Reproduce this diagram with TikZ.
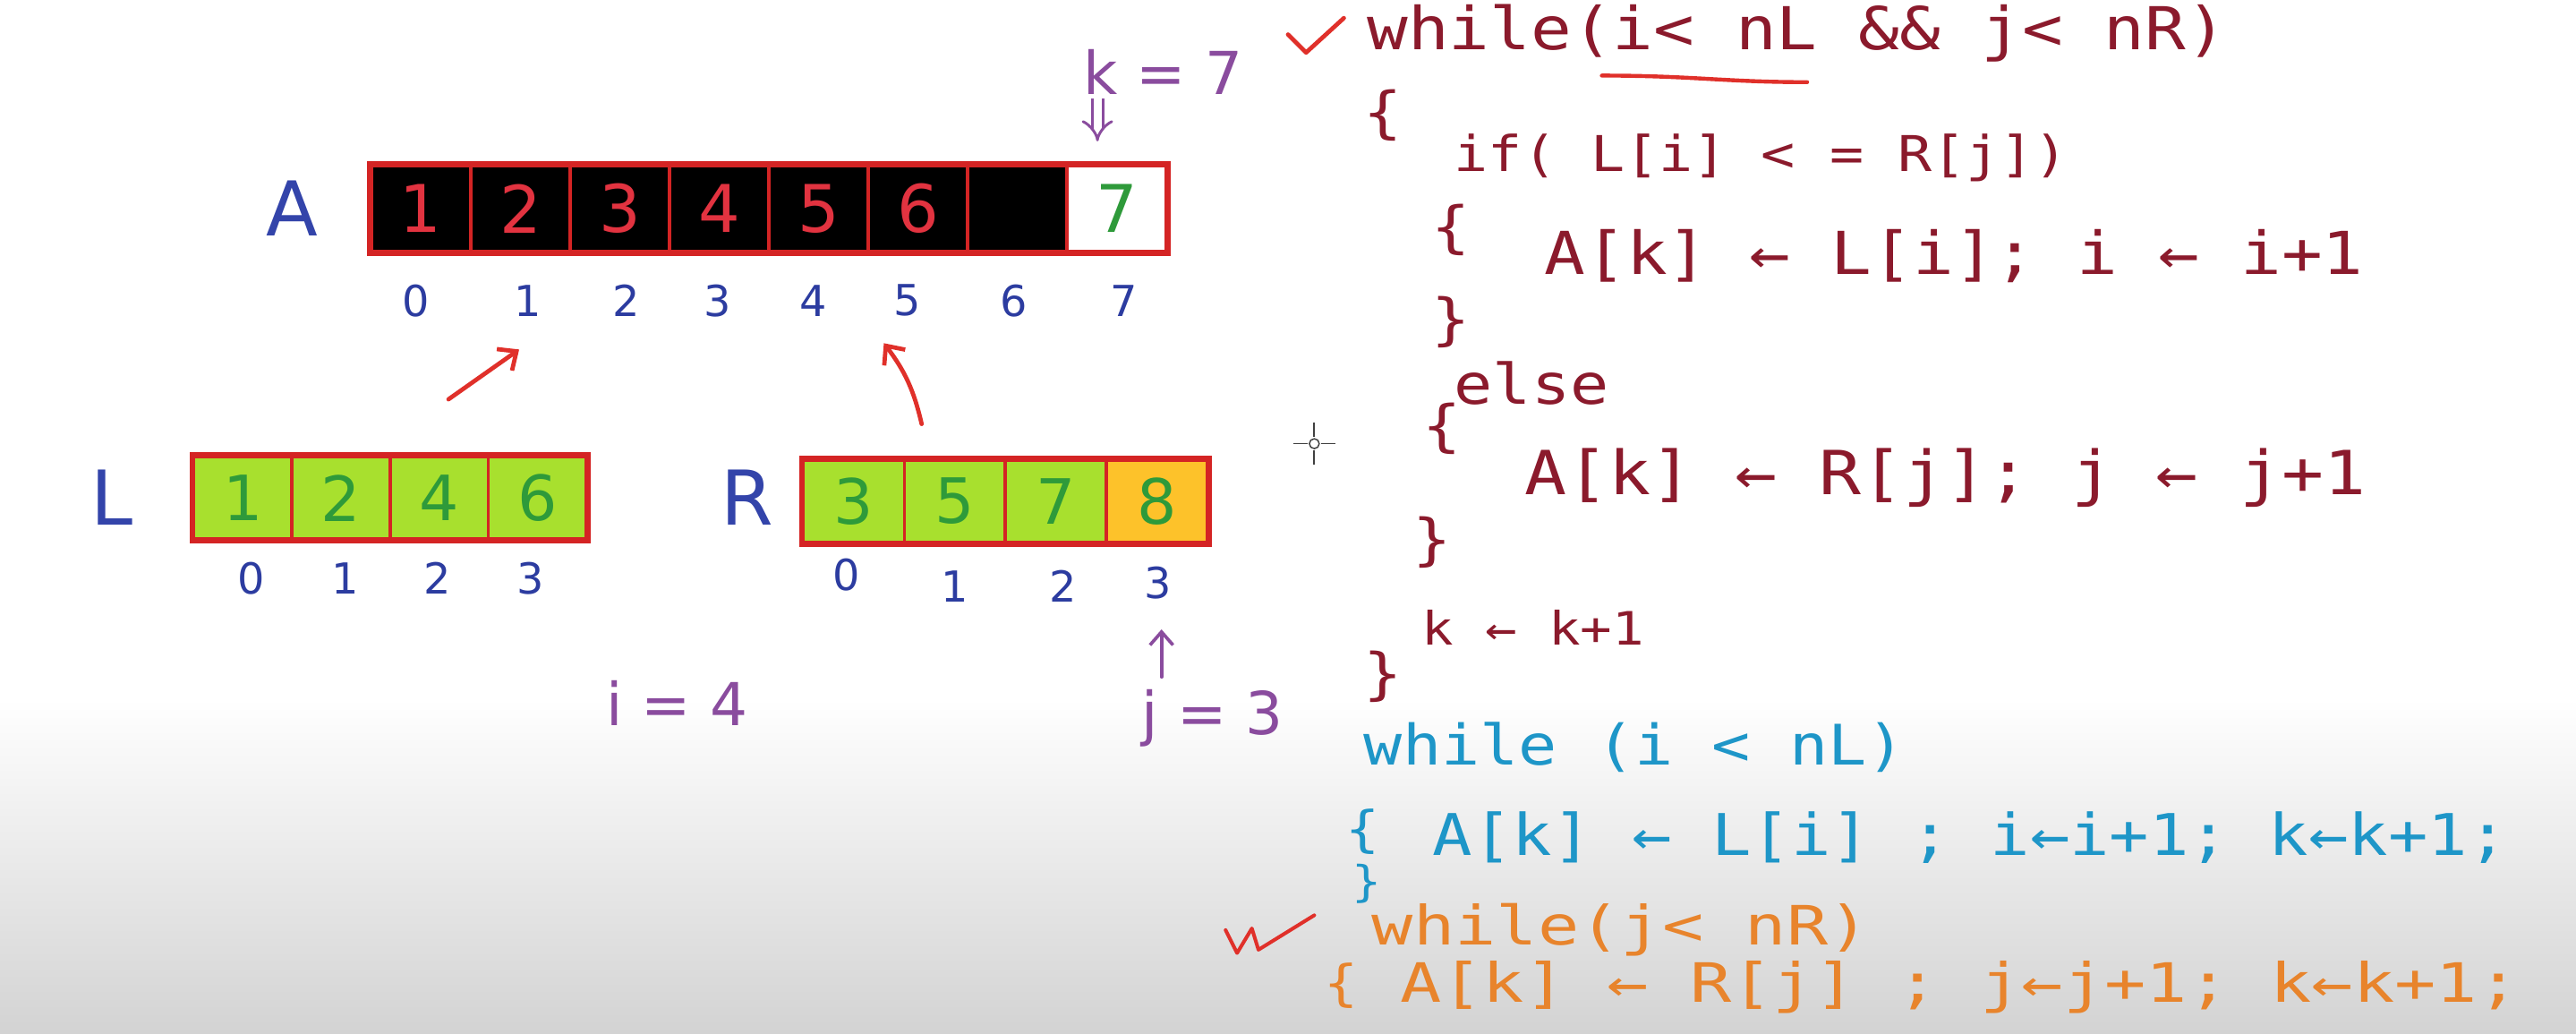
\documentclass[tikz,border=0pt]{standalone}
\usepackage{fontspec}
\setmainfont{DejaVu Sans}
\newfontfamily\codefont[FakeStretch=1.15]{DejaVu Sans Mono}
\newfontfamily\codefontw[FakeStretch=1.27]{DejaVu Sans Mono}
\usetikzlibrary{arrows.meta,calc}
\definecolor{cellred}{HTML}{D42424}
\definecolor{inkred}{HTML}{E23340}
\definecolor{dgreen}{HTML}{2E9A3A}
\definecolor{cellgreen}{HTML}{A8E02E}
\definecolor{cellorange}{HTML}{FDC22A}
\definecolor{idxblue}{HTML}{2C3CA0}
\definecolor{labblue}{HTML}{3344AA}
\definecolor{purp}{HTML}{8A4C9E}
\definecolor{codered}{HTML}{8B1A2C}
\definecolor{codeblue}{HTML}{1E96C8}
\definecolor{codeorange}{HTML}{E8842C}
\definecolor{arrred}{HTML}{E0302A}
\definecolor{bgbot}{HTML}{D3D3D3}
\newcommand\myfs[1]{\fontsize{#1}{#1}\selectfont}
\begin{document}
\begin{tikzpicture}[x=1pt,y=-1pt,
  acell/.style={draw=cellred, line width=2pt, fill=black, text=inkred,
    minimum width=60.5pt, minimum height=52pt, inner sep=0pt, font=\myfs{40}},
  lcell/.style={draw=cellred, line width=2pt, fill=cellgreen, text=dgreen,
    minimum width=59.75pt, minimum height=50pt, inner sep=0pt, font=\myfs{38}},
  rcell/.style={lcell, minimum width=61.5pt},
  idx/.style={text=idxblue, font=\myfs{26}, inner sep=0pt},
  lab/.style={text=labblue, font=\myfs{46}, inner sep=0pt},
  pur/.style={text=purp, font=\myfs{36}, inner sep=0pt},
  code/.style={anchor=west, inner sep=0pt, font=\codefont\myfs{36}},
  cred/.style={code, text=codered},
  cblue/.style={code, text=codeblue},
  corange/.style={code, text=codeorange},
  redarrow/.style={draw=arrred, line width=2.6pt, line cap=round,
    -{Straight Barb[length=9pt,width=16pt,line width=2.6pt]}},
  purarrow/.style={draw=purp, line width=2pt, line cap=round,
    -{Straight Barb[length=8pt,width=14pt,line width=2pt]}}
]
\clip (0,0) rectangle (1568,629);
\fill[white] (0,0) rectangle (1568,629);
\shade[top color=white, bottom color=bgbot] (0,425) rectangle (1568,629);

% ---- array A
\node[lab] (Alab) at (178,127) {A};
\node[acell] (A0) at (256.25,127) {1};
\node[acell] (A1) at (316.75,127) {2};
\node[acell] (A2) at (377.25,127) {3};
\node[acell] (A3) at (437.75,127) {4};
\node[acell] (A4) at (498.25,127) {5};
\node[acell] (A5) at (558.75,127) {6};
\node[acell] (A6) at (619.25,127) {};
\node[acell, fill=white, text=dgreen] (A7) at (679.75,127) {7};
\draw[cellred, line width=3.5pt] (A0.north west) rectangle (A7.south east);
\node[idx] (iA0) at (253,183) {0};
\node[idx] (iA1) at (321,183) {1};
\node[idx] (iA2) at (381,183) {2};
\node[idx] (iA3) at (437,183) {3};
\node[idx] (iA4) at (495,183) {4};
\node[idx] (iA5) at (552,183) {5};
\node[idx] (iA6) at (617,183) {6};
\node[idx] (iA7) at (684,183) {7};

\node[pur] (kv) at (708,44) {k = 7};
\coordinate (kds) at (668,60);
\coordinate (kde) at (668,86);
\draw[purp, double distance=5pt, line width=1.6pt, -{Implies}] (kds) -- (kde);

% ---- array L
\node[lab] (Llab) at (68,303) {L};
\node[lcell] (L0) at (147.9,303) {1};
\node[lcell] (L1) at (207.6,303) {2};
\node[lcell] (L2) at (267.4,303) {4};
\node[lcell] (L3) at (327.1,303) {6};
\draw[cellred, line width=3.5pt] (L0.north west) rectangle (L3.south east);
\node[idx] (iL0) at (153,352) {0};
\node[idx] (iL1) at (210,352) {1};
\node[idx] (iL2) at (266,352) {2};
\node[idx] (iL3) at (323,352) {3};

% ---- array R
\node[lab] (Rlab) at (455,303) {R};
\node[rcell] (R0) at (519.75,305) {3};
\node[rcell] (R1) at (581.25,305) {5};
\node[rcell] (R2) at (642.75,305) {7};
\node[rcell, fill=cellorange] (R3) at (704.25,305) {8};
\draw[cellred, line width=3.5pt] (R0.north west) rectangle (R3.south east);
\node[idx] (iR0) at (515,350) {0};
\node[idx] (iR1) at (581,357) {1};
\node[idx] (iR2) at (647,357) {2};
\node[idx] (iR3) at (705,355) {3};

% ---- pointers
\node[pur] (iv) at (412,428) {i = 4};
\node[pur] (jv) at (738,437) {j = 3};
\coordinate (jas) at (707,412);
\draw[purarrow] (jas) -- ($(iR3.south)+(2,18)$);

\coordinate (ar1s) at (273,243);
\draw[redarrow] (ar1s) -- ($(iA1.south)+(-5,20)$);
\coordinate (ar2s) at (561,258);
\draw[redarrow] (ar2s) to[bend right=12] ($(iA5.south)+(-14,16)$);

% ---- cursor
\draw[black!75, line width=1pt] (787,270) -- (796,270) (804,270) -- (813,270)
  (800,257) -- (800,266) (800,274) -- (800,283);
\draw[black!75, line width=0.8pt] (800,270) circle (3);

% ---- code (red)
\draw[arrred, line width=2.6pt, line cap=round, line join=round]
  (784,21) -- (795,32) -- (818,11);
\node[cred] (c1) at (832,20) {while(i< nL \&\& j< nR)};
\draw[arrred, line width=2.4pt, line cap=round] (975,46) .. controls (1030,46) and (1050,50) .. (1100,50);
\node[cred, font=\codefont\myfs{34}] (b1) at (830,70) {\{};
\node[cred, font=\codefont\myfs{30}] (c2) at (885,96) {if( L[i] < = R[j])};
\node[cred, font=\codefont\myfs{34}] (b2) at (871,140) {\{};
\node[cred] (c3) at (940,156) {A[k] ← L[i]; i ← i+1};
\node[cred, font=\codefont\myfs{34}] (b3) at (871,196) {\}};
\node[cred, font=\codefont\myfs{34}] (c4) at (885,233) {else};
\node[cred, font=\codefont\myfs{34}] (b4) at (866,261) {\{};
\node[cred, font=\codefont\myfs{37}] (c5) at (928,291) {A[k] ← R[j]; j ← j+1};
\node[cred, font=\codefont\myfs{34}] (b5) at (860,330) {\}};
\node[cred, font=\codefont\myfs{28}] (c6) at (865,382) {k ← k+1};
\node[cred, font=\codefont\myfs{34}] (b6) at (830,412) {\}};

% ---- code (blue)
\node[cblue, font=\codefont\myfs{34}] (c7) at (830,455) {while (i < nL)};
\node[cblue, font=\codefont\myfs{30}] (b7) at (819,506) {\{};
\node[cblue, font=\codefont\myfs{35}] (c8) at (872,510) {A[k] ← L[i] ; i←i+1; k←k+1;};
\node[cblue, font=\codefont\myfs{26}] (b8) at (823,538) {\}};

% ---- code (orange)
\draw[arrred, line width=2.2pt, line cap=round, line join=round]
  (746,566) -- (753,580) -- (762,565) -- (766,578) -- (800,557);
\node[corange, font=\codefontw\myfs{33}] (c9) at (835,566) {while(j< nR)};
\node[corange, font=\codefont\myfs{30}] (b9) at (806,600) {\{};
\node[corange, font=\codefontw\myfs{33}] (c10) at (852,601) {A[k] ← R[j] ; j←j+1; k←k+1;};
\end{tikzpicture}
\end{document}
